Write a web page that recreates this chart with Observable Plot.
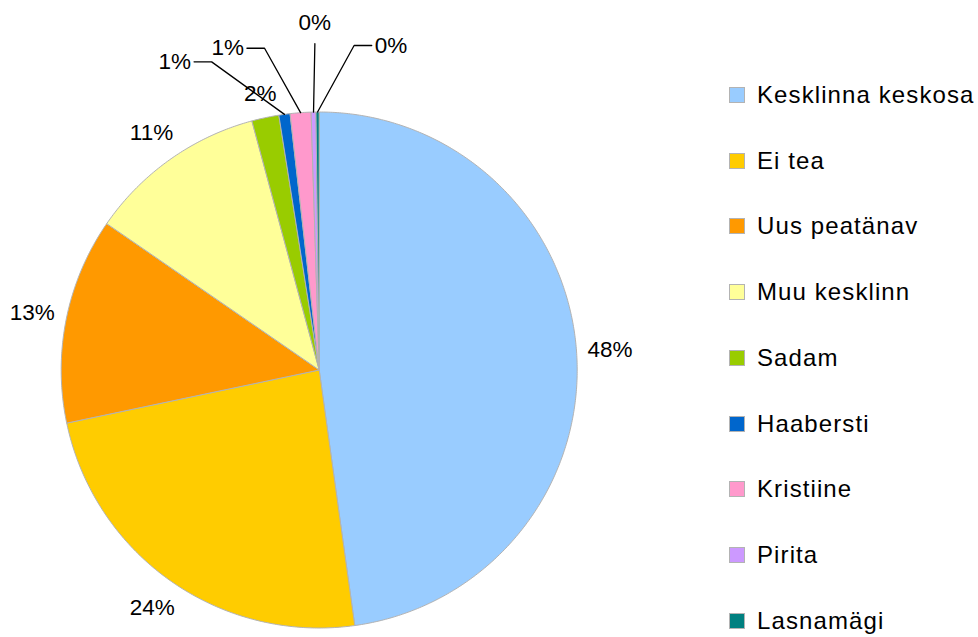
<!DOCTYPE html>
<html><head><meta charset="utf-8">
<script src="https://cdn.jsdelivr.net/npm/d3@7"></script>
<script src="https://cdn.jsdelivr.net/npm/@observablehq/plot@0.6"></script>
<style>
body{margin:0;background:#fff;font-family:"Liberation Sans",Arial,sans-serif;}
#wrap{position:relative;width:978px;height:637px;overflow:hidden;}
#legend{position:absolute;left:729px;top:62.1px;}
.row{display:flex;align-items:center;height:65.75px;font-size:24px;letter-spacing:1.1px;color:#000;white-space:nowrap;}
.sw{width:16px;height:16px;box-sizing:border-box;border:1px solid #b3b3b3;margin-right:12px;flex:none;}
</style>
</head><body>
<div id="wrap"><div id="chart"></div><div id="legend"></div></div>
<script>
const categories = ["Kesklinna keskosa","Ei tea","Uus peatänav","Muu kesklinn","Sadam","Haabersti","Kristiine","Pirita","Lasnamägi"];
const values = [47.8, 23.9, 12.9, 11.2, 1.7, 0.7, 1.3, 0.3, 0.2];
const colors = ["#99ccff","#ffcc00","#ff9900","#ffff99","#99cc00","#0066cc","#ff99cc","#cc99ff","#008080"];

const cx = 318.7, cy = 369.5, R = 258, px = 1 / R;
const deg = Math.PI / 180;
const fontSize = 22.5;
const pie = d3.pie().sort(null).value(d => d)(values);

const slices = [];
pie.forEach((p, i) => {
  const name = categories[i];
  slices.push({name, x: 0, y: 0});
  const n = Math.max(2, Math.ceil((p.endAngle - p.startAngle) / (0.5 * deg)));
  for (let k = 0; k <= n; k++) {
    const a = p.startAngle + (p.endAngle - p.startAngle) * k / n;
    slices.push({name, x: Math.sin(a), y: Math.cos(a)});
  }
  slices.push({name, x: 0, y: 0});
});

const small = values.map(v => v < 1.5);
const nSmall = small.filter(Boolean).length;
const midOf = p => (p.startAngle + p.endAngle) / 2;
const textWidth = t => [...t].reduce((s, c) => s + (c === "%" ? 0.889 : 0.556), 0) * fontSize;
let fanIdx = 0;
const labels = [], leaders = [];
pie.forEach((p, i) => {
  const mid = midOf(p);
  const text = Math.round(values[i]) + "%";
  if (!small[i]) {
    const s = Math.sin(mid), c = Math.cos(mid);
    const r = 1.04 + (Math.abs(s) * textWidth(text) / 2 + Math.abs(c) * 11) * px;
    labels.push({text, anchor: "middle", x: r * s, y: r * c});
  } else {
    const a = mid + (6 * (fanIdx - (nSmall - 1) / 2) - 2.5) * deg; fanIdx++;
    const er = 1.265;
    const ex = er * Math.sin(a), ey = er * Math.cos(a);
    leaders.push({id: i, x: Math.sin(mid), y: Math.cos(mid)}, {id: i, x: ex, y: ey});
    if (Math.abs(ex * R) < 15) {
      labels.push({text, anchor: "middle", x: ex, y: ey + 21 * px});
    } else {
      const s = Math.sign(ex);
      const hx = ex + s * 17.6 * px;
      leaders.push({id: i, x: hx, y: ey});
      labels.push({text, anchor: s > 0 ? "start" : "end", x: hx + s * 3 * px, y: ey});
    }
  }
});

const textOpts = {x: "x", y: "y", text: "text", fontSize, fill: "#000", lineAnchor: "middle"};
const chart = Plot.plot({
  width: 978, height: 637, margin: 0,
  style: {fontFamily: "'Liberation Sans', Arial, sans-serif", background: "#fff"},
  x: {domain: [-1, 1], range: [cx - R, cx + R], axis: null},
  y: {domain: [-1, 1], range: [cy + R, cy - R], axis: null},
  color: {domain: categories, range: colors},
  marks: [
    Plot.line(slices, {x: "x", y: "y", z: "name", fill: "name", stroke: "#b3b3b3", strokeWidth: 1, curve: "linear"}),
    Plot.line(leaders, {x: "x", y: "y", z: "id", stroke: "#000", strokeWidth: 1.3}),
    Plot.text(labels.filter(d => d.anchor === "middle"), {...textOpts, textAnchor: "middle"}),
    Plot.text(labels.filter(d => d.anchor === "start"), {...textOpts, textAnchor: "start"}),
    Plot.text(labels.filter(d => d.anchor === "end"), {...textOpts, textAnchor: "end"})
  ]
});
document.getElementById("chart").appendChild(chart);

const legend = document.getElementById("legend");
categories.forEach((c, i) => {
  const row = document.createElement("div");
  row.className = "row";
  const sw = document.createElement("span");
  sw.className = "sw";
  sw.style.background = colors[i];
  row.appendChild(sw);
  row.appendChild(document.createTextNode(c));
  legend.appendChild(row);
});
</script>
</body></html>
